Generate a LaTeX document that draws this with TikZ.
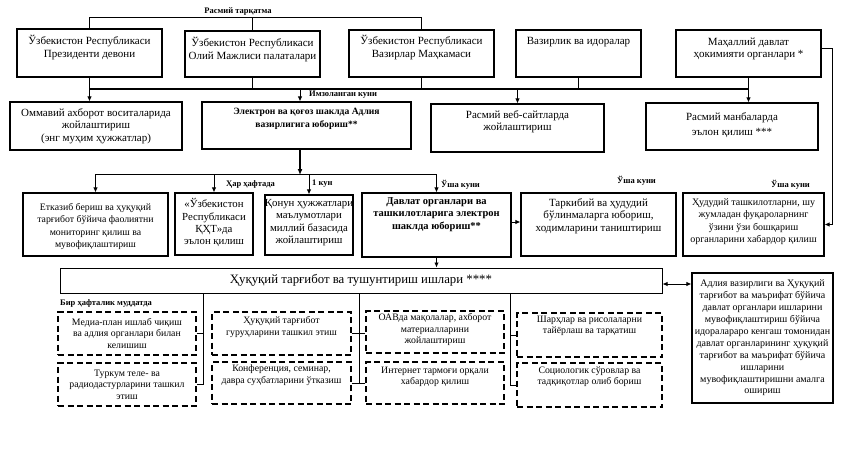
\documentclass[tikz,border=0pt]{standalone}
\usepackage{fontspec}
\setmainfont{Liberation Serif}
\usetikzlibrary{arrows.meta,fit,calc}
\newcommand\tbox[8]{%
  \path (#2,#3) coordinate (#1-a) (#4,#5) coordinate (#1-b);
  \node[#6, fit=(#1-a)(#1-b)] (#1) {};
  \node[anchor=north,#7] (#1-t) at (#1.north) {#8};}
\newcommand\cbox[8]{%
  \path (#2,#3) coordinate (#1-a) (#4,#5) coordinate (#1-b);
  \node[#6, fit=(#1-a)(#1-b)] (#1) {};
  \node[#7] (#1-t) at (#1.center) {#8};}
\begin{document}
\begin{tikzpicture}[x=1pt,y=-1pt,
  box/.style={draw, line width=1.2pt, inner sep=0pt},
  dbox/.style={draw, line width=1.2pt, dash pattern=on 6pt off 3.5pt, inner sep=0pt},
  txt/.style={inner sep=0pt, align=center, font=\fontsize{11}{12.4}\selectfont},
  mtxt/.style={inner sep=0pt, align=center, font=\fontsize{10.3}{12.3}\selectfont},
  stxt/.style={inner sep=0pt, align=center, font=\fontsize{9.8}{11.6}\selectfont},
  btxt/.style={inner sep=0pt, align=center, font=\fontsize{10.5}{12.4}\selectfont\bfseries},
  lbl/.style={inner sep=0pt, font=\fontsize{8.5}{10}\selectfont\bfseries},
  ln/.style={line width=0.9pt},
  arr/.style={ln, -{Latex[length=5pt,width=4.5pt]}},
]
\useasboundingbox (0,0) rectangle (848,451);
\fill[white] (0,0) rectangle (848,451);

% row 1
\tbox{A}{17}{29}{162}{77}{box}{txt,yshift=-7pt}{Ўзбекистон Республикаси\\Президенти девони}
\tbox{B}{185}{31}{320}{77}{box}{txt,yshift=-7pt}{Ўзбекистон Республикаси\\Олий Мажлиси палаталари}
\tbox{C}{349}{30}{494}{77}{box}{txt,yshift=-6pt}{Ўзбекистон Республикаси\\Вазирлар Маҳкамаси}
\tbox{D}{516}{30}{641}{77}{box}{txt,yshift=-8pt}{Вазирлик ва идоралар}
\tbox{E}{676}{30}{821}{77}{box}{txt,yshift=-8pt}{Маҳаллий давлат\\ҳокимияти органлари *}

% row 2
\cbox{F}{10}{102}{182}{150}{box}{txt}{Оммавий ахборот воситаларида\\жойлаштириш\\(энг муҳим ҳужжатлар)}
\tbox{G}{202}{102}{411}{149}{box}{btxt,yshift=-7pt,font=\fontsize{9.6}{12.4}\selectfont\bfseries}{Электрон ва қоғоз шаклда Адлия\\вазирлигига юбориш**}
\tbox{H}{431}{104}{604}{152}{box}{txt,yshift=-7pt}{Расмий веб-сайтларда\\жойлаштириш}
\tbox{I}{646}{103}{818}{150}{box}{txt,yshift=-10pt,font=\fontsize{11}{15}\selectfont}{Расмий манбаларда\\эълон қилиш ***}

% row 3
\tbox{J}{23}{193}{168}{256}{box}{mtxt,yshift=-11pt,font=\fontsize{9.8}{12.2}\selectfont}{Етказиб бериш ва ҳуқуқий\\тарғибот бўйича фаолиятни\\мониторинг қилиш ва\\мувофиқлаштириш}
\tbox{K}{175}{193}{253}{255}{box}{mtxt,yshift=-6pt,font=\fontsize{10.8}{12.3}\selectfont}{«Ўзбекистон\\Республикаси\\ҚҲТ»да\\эълон қилиш}
\tbox{L}{265}{195}{353}{255}{box}{mtxt,yshift=-5pt,font=\fontsize{10.8}{12.3}\selectfont}{Қонун ҳужжатлари\\маълумотлари\\миллий базасида\\жойлаштириш}
\tbox{M}{362}{193}{511}{257}{box}{btxt,yshift=-5pt}{Давлат органлари ва\\ташкилотларига электрон\\шаклда юбориш**}
\tbox{N}{521}{193}{676}{256}{box}{txt,yshift=-6pt}{Таркибий ва ҳудудий\\бўлинмаларга юбориш,\\ходимларини таништириш}
\tbox{O}{683}{193}{824}{256}{box}{mtxt,yshift=-6pt,font=\fontsize{10}{12.3}\selectfont}{Ҳудудий ташкилотларни, шу\\жумладан фуқароларнинг\\ўзини ўзи бошқариш\\органларини хабардор қилиш}

% row 4
\cbox{P}{60}{268}{662}{293}{draw, line width=1pt, inner sep=0pt}{inner sep=0pt, font=\fontsize{12.8}{15}\selectfont}{Ҳуқуқий тарғибот ва тушунтириш ишлари ****}
\cbox{Q}{692}{273}{833}{403}{box}{stxt,font=\fontsize{10}{11.9}\selectfont}{Адлия вазирлиги ва Ҳуқуқий\\тарғибот ва маърифат бўйича\\давлат органлари ишларини\\мувофиқлаштириш бўйича\\идоралараро кенгаш томонидан\\давлат органларининг ҳуқуқий\\тарғибот ва маърифат бўйича\\ишларини\\мувофиқлаштиришни амалга\\ошириш}

% dashed boxes
\cbox{R1}{58}{312}{196}{355}{dbox}{stxt}{Медиа-план ишлаб чиқиш\\ва адлия органлари билан\\келишиш}
\cbox{R2}{58}{363}{196}{406}{dbox}{stxt}{Туркум теле- ва\\радиодастурларини ташкил\\этиш}
\tbox{S1}{212}{312}{351}{355}{dbox}{stxt,yshift=-5pt}{Ҳуқуқий тарғибот\\гуруҳларини ташкил этиш}
\tbox{S2}{212}{362}{351}{404}{dbox}{stxt,yshift=-3pt}{Конференция, семинар,\\давра суҳбатларини ўтказиш}
\tbox{T1}{366}{311}{504}{353}{dbox}{stxt,yshift=-3pt}{ОАВда мақолалар, ахборот\\материалларини\\жойлаштириш}
\tbox{T2}{366}{362}{504}{404}{dbox}{stxt,yshift=-5pt}{Интернет тармоғи орқали\\хабардор қилиш}
\tbox{U1}{517}{313}{662}{357}{dbox}{stxt,yshift=-3pt}{Шарҳлар ва рисолаларни\\тайёрлаш ва тарқатиш}
\tbox{U2}{517}{363}{662}{407}{dbox}{stxt,yshift=-4pt}{Социологик сўровлар ва\\тадқиқотлар олиб бориш}

% labels
\node[lbl] (l1) at (238,11) {Расмий тарқатма};
\node[lbl, anchor=west] (l2) at (309,95) {Имзоланган куни};
\node[lbl, anchor=west] (l3) at (226,184) {Ҳар ҳафтада};
\node[lbl, anchor=west] (l4) at (312,184) {1 кун};
\node[lbl, anchor=west] (l5) at (441,185) {Ўша куни};
\node[lbl, anchor=west] (l6) at (617,181) {Ўша куни};
\node[lbl, anchor=west] (l7) at (771,185) {Ўша куни};
\node[lbl, anchor=west] (l8) at (60,303) {Бир ҳафталик муддатда};

% top bracket
\draw[ln] (A.north) -- (A.north |- 0,17) -| (C.north);
\draw[ln] (B.north) -- (B.north |- 0,17);

% bus under row 1
\draw[ln] (B.south) -- (B.south |- 0,89);
\draw[ln] (C.south) -- (C.south |- 0,89);
\draw[ln] (D.south) -- (D.south |- 0,89);
\draw[line width=2pt] (A.south |- 0,89) -- (E.south |- 0,89);
\draw[arr] (A.south) -- (A.south |- F.north);
\draw[arr] (300,89) -- (300,0 |- G.north);
\draw[arr] (H.north |- 0,89) -- (H.north);
\draw[arr] (E.south) -- (E.south |- I.north);

% from G to row 3
\draw[line width=2pt, -{Latex[length=6pt,width=5pt]}] (300,0 |- G.south) -- (300,175);
\draw[ln] (J.north |- 0,174) -- (M.north |- 0,174);
\draw[arr] (J.north |- 0,174) -- (J.north);
\draw[arr] (K.north |- 0,174) -- (K.north);
\draw[arr] (L.north |- 0,174) -- (L.north);
\draw[arr] (M.north |- 0,174) -- (M.north);
\draw[arr] (M.east |- 0,222) -- (N.west |- 0,222);
\draw[arr] (E.east |- 0,48) -- (832,48) |- (O.east);

% to main box
\draw[arr] (M.south) -- (M.south |- P.north);
\draw[ln, {Latex[length=5pt,width=4.5pt]}-{Latex[length=5pt,width=4.5pt]}] (P.east |- 0,284) -- (Q.west |- 0,284);

% columns
\draw[ln] (203,0 |- P.south) |- (R2.east);
\draw[ln] (R1.east) -- (R1.east -| 203,0);
\draw[ln] (359,0 |- P.south) |- (S2.east);
\draw[ln] (T2.west) -- (T2.west -| 359,0);
\draw[ln] (S1.east) -- (T1.west |- S1.east);
\draw[ln] (510,0 |- P.south) |- (U2.west);
\draw[ln] (U1.west) -- (U1.west -| 510,0);
\end{tikzpicture}
\end{document}
